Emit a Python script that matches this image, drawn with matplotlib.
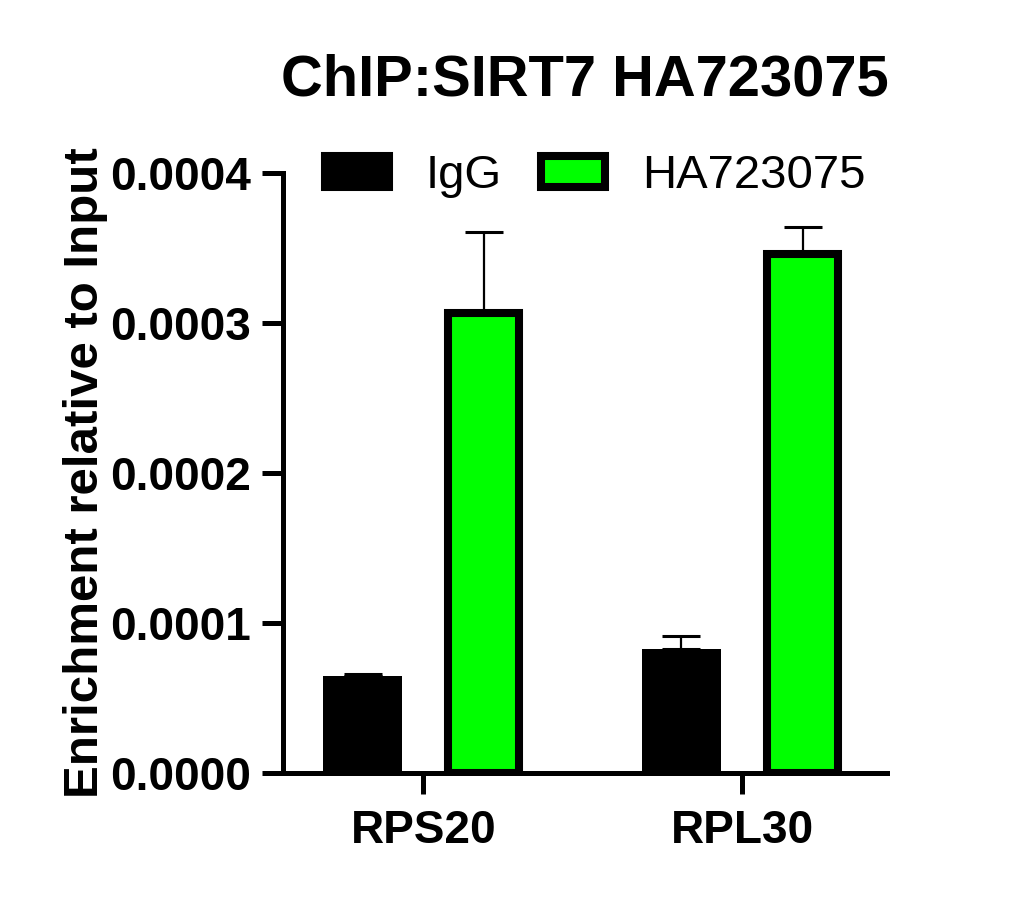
import matplotlib.pyplot as plt
import numpy as np
from matplotlib.patches import Patch

plt.rcParams['font.family'] = ['Liberation Sans', 'DejaVu Sans']

# data
genes = ['RPS20', 'RPL30']
igg = [0.0000647, 0.0000827]
igg_err = [0.0000013, 0.0000087]
ha = [0.000307, 0.000346]
ha_err = [0.0000537, 0.000018]
series = ['IgG', 'HA723075']
colors = ['black', '#00ff00']

fig = plt.figure(figsize=(10.2, 9.13), dpi=100)
ax = fig.add_axes([0.2775, 0.1533, 0.5922, 0.6572])

x = np.arange(len(genes))
w = 0.223
off = 0.19
lw = 5.8
ekw = dict(ecolor='black', elinewidth=1.6, capsize=14, capthick=2.2)

# IgG bars are solid black, no edge, so full outer width
ax.bar(x - off, igg, width=0.248, color=colors[0], linewidth=0,
       yerr=[np.zeros(len(igg)), igg_err], error_kw=ekw, zorder=2)
ax.bar(x + off, ha, width=w, color=colors[1], edgecolor='black', linewidth=lw,
       yerr=[np.zeros(len(ha)), ha_err], error_kw=ekw, zorder=2)

ax.set_xlim(-0.44, 1.455)
ax.set_ylim(0, 0.0004)
ax.set_yticks([0, 0.0001, 0.0002, 0.0003, 0.0004])
ax.set_yticklabels(['0.0000', '0.0001', '0.0002', '0.0003', '0.0004'])
ax.set_xticks(x)
ax.set_xticklabels(genes)

for s in ['top', 'right']:
    ax.spines[s].set_visible(False)
for s in ['left', 'bottom']:
    ax.spines[s].set_linewidth(3.6)

ax.tick_params(axis='both', width=3.6, length=15, labelsize=33)
ax.tick_params(axis='y', pad=8)
ax.tick_params(axis='x', pad=11)
for lab in ax.get_xticklabels() + ax.get_yticklabels():
    lab.set_fontweight('bold')

ax.set_ylabel('Enrichment relative to Input', fontsize=35.5, fontweight='bold')
ax.yaxis.set_label_coords(-0.29, 0.5)

fig.text(0.5735, 1 - 80 / 913, 'ChIP:SIRT7 HA723075', fontsize=41.7, fontweight='bold',
         ha='center', va='center')

handles = [Patch(facecolor=c, edgecolor='black', linewidth=lw) for c in colors]
ax.legend(handles, series, ncol=2, frameon=False, fontsize=34,
          loc='center left', bbox_to_anchor=(325 / 1020, 1 - 176 / 913),
          bbox_transform=fig.transFigure, borderpad=0, borderaxespad=0,
          handlelength=1.36, handleheight=0.62, handletextpad=0.78, columnspacing=0.82)

fig.savefig('out.png', dpi=100)
